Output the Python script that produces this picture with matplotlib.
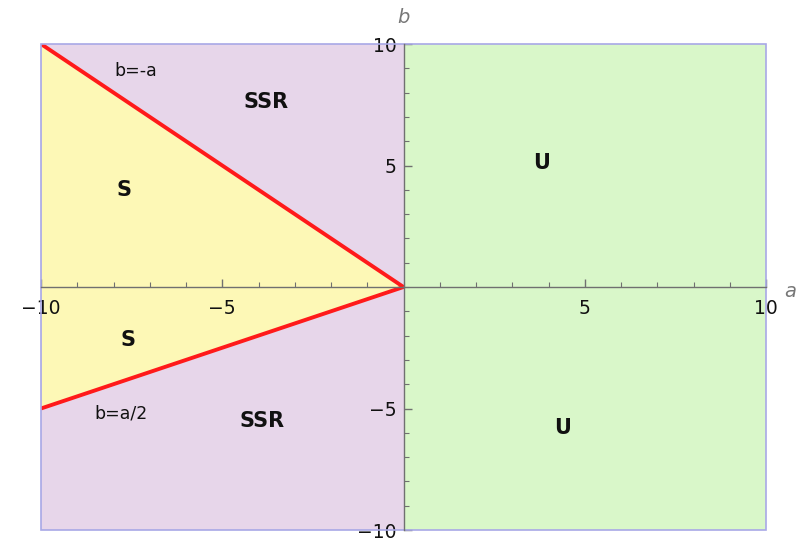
import numpy as np
import matplotlib
matplotlib.use("Agg")
import matplotlib.pyplot as plt
from matplotlib.patches import Rectangle
from matplotlib.ticker import MultipleLocator, FixedLocator

# Plot range
a_min, a_max = -10, 10
b_min, b_max = -10, 10

# Boundary lines (for a < 0)
a_line = np.array([-10, 0])
b_upper = -a_line          # b = -a
b_lower = a_line / 2       # b = a/2

# Region labels: (text, a, b, bold)
labels = [
    ("b=-a", -7.4, 8.9, False),
    ("SSR", -3.8, 7.6, True),
    ("S", -7.7, 4.0, True),
    ("S", -7.6, -2.2, True),
    ("b=a/2", -7.8, -5.2, False),
    ("SSR", -3.9, -5.5, True),
    ("U", 3.8, 5.1, True),
    ("U", 4.4, -5.8, True),
]

major_ticks = [-10, -5, 5, 10]

# Colours
c_yellow = "#fdf8b6"
c_purple = "#e7d6ea"
c_green = "#d9f7c9"
c_red = "#ff1a1a"
c_frame = "#a8a8e6"
c_axis = "#707070"

fig = plt.figure(figsize=(7.98, 5.45), dpi=100)
ax = fig.add_axes([41 / 798, 15 / 545, 725 / 798, 486 / 545])
ax.set_xlim(a_min, a_max)
ax.set_ylim(b_min, b_max)

# Regions
ax.fill_between([a_min, 0], b_min, b_max, color=c_purple, lw=0, zorder=0)
ax.fill_between([0, a_max], b_min, b_max, color=c_green, lw=0, zorder=0)
ax.fill_between(a_line, b_lower, b_upper, color=c_yellow, lw=0, zorder=1)

# Boundaries
ax.plot(a_line, b_upper, color=c_red, lw=2.8, zorder=3, solid_capstyle="butt")
ax.plot(a_line, b_lower, color=c_red, lw=2.8, zorder=3, solid_capstyle="butt")

# Frame
ax.add_patch(Rectangle((a_min, b_min), a_max - a_min, b_max - b_min, fill=False,
                       edgecolor=c_frame, lw=1.2, zorder=4, clip_on=False))

# Axes through origin
for side in ["top", "right"]:
    ax.spines[side].set_visible(False)
ax.spines["left"].set_position(("data", 0))
ax.spines["bottom"].set_position(("data", 0))
for side in ["left", "bottom"]:
    ax.spines[side].set_color(c_axis)
    ax.spines[side].set_linewidth(1.0)
    ax.spines[side].set_zorder(5)

ax.xaxis.set_major_locator(FixedLocator(major_ticks))
ax.yaxis.set_major_locator(FixedLocator(major_ticks))
ax.xaxis.set_minor_locator(MultipleLocator(1))
ax.yaxis.set_minor_locator(MultipleLocator(1))
ax.set_xticklabels(["\u221210", "\u22125", "5", "10"])
ax.set_yticklabels(["\u221210", "\u22125", "5", "10"])
ax.tick_params(which="major", direction="in", length=6, width=1, color=c_axis,
               labelsize=13.5, labelcolor="#111111")
ax.tick_params(axis="x", which="major", pad=9)
ax.tick_params(axis="y", which="major", pad=5)
ax.tick_params(which="minor", direction="in", length=3.5, width=0.8, color=c_axis)

ax.text(1.025, 0.49, "a", transform=ax.transAxes, fontsize=14, style="italic",
        color="#777777", ha="left", va="center")
ax.text(0.5, 1.035, "b", transform=ax.transAxes, fontsize=14, style="italic",
        color="#777777", ha="center", va="bottom")

for txt, x, y, bold in labels:
    ax.text(x, y, txt, fontsize=15 if bold else 12.5,
            fontweight="bold" if bold else "normal",
            color="#111111", ha="center", va="center", zorder=6)

fig.savefig("out.png", dpi=100)
